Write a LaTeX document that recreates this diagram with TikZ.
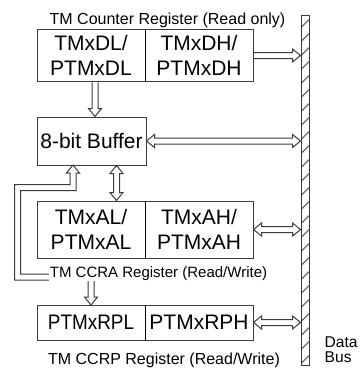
\documentclass[tikz,border=0pt]{standalone}
\usepackage{fontspec}
\setmainfont{Liberation Sans}
\usepackage{graphicx}
\usetikzlibrary{calc}
\definecolor{cline}{HTML}{3C3C3C}
\definecolor{chatch}{HTML}{5A5A5A}

\tikzset{
  reg/.style={draw=cline, line width=0.75pt, minimum width=81pt, inner sep=0pt,
    align=center, font=\fontsize{15.75}{18.75}\selectfont},
  regcap/.style={anchor=base, fill=white, inner sep=0.5pt},
  % hollow bus arrows, one tip or two tips
  oneway/.style={draw=cline, line width=0.75pt, line join=miter, to path={
    let \p1=(\tikztostart), \p2=(\tikztotarget), \n1={atan2(\y2-\y1,\x2-\x1)} in
    ($(\p1)+({\n1+90}:2.25pt)$)
    -- ($(\p2)+({\n1+180}:6pt)+({\n1+90}:2.25pt)$)
    -- ($(\p2)+({\n1+180}:6pt)+({\n1+90}:4.9pt)$)
    -- (\p2)
    -- ($(\p2)+({\n1+180}:6pt)+({\n1-90}:4.9pt)$)
    -- ($(\p2)+({\n1+180}:6pt)+({\n1-90}:2.25pt)$)
    -- ($(\p1)+({\n1-90}:2.25pt)$)}},
  twoway/.style={draw=cline, line width=0.75pt, line join=miter, to path={
    let \p1=(\tikztostart), \p2=(\tikztotarget), \n1={atan2(\y2-\y1,\x2-\x1)} in
    (\p1)
    -- ($(\p1)+(\n1:6pt)+({\n1+90}:4.9pt)$)
    -- ($(\p1)+(\n1:6pt)+({\n1+90}:2.25pt)$)
    -- ($(\p2)+({\n1+180}:6pt)+({\n1+90}:2.25pt)$)
    -- ($(\p2)+({\n1+180}:6pt)+({\n1+90}:4.9pt)$)
    -- (\p2)
    -- ($(\p2)+({\n1+180}:6pt)+({\n1-90}:4.9pt)$)
    -- ($(\p2)+({\n1+180}:6pt)+({\n1-90}:2.25pt)$)
    -- ($(\p1)+(\n1:6pt)+({\n1-90}:2.25pt)$)
    -- ($(\p1)+(\n1:6pt)+({\n1-90}:4.9pt)$)
    -- cycle}},
  divider/.style={draw=black, line width=1.1pt}
}

\begin{document}
\begin{tikzpicture}[x=0.75pt, y=-0.75pt]
\useasboundingbox (0,0) rectangle (363,371);

% Data bus (hatched bar on the right)
\node[draw=cline, line width=0.75pt, minimum width=6pt, minimum height=262.5pt, inner sep=0pt,
  path picture={
    \foreach \k in {0,...,24}
      \draw[chatch, line width=0.8pt]
        ([yshift=\k*10.5pt+1pt]path picture bounding box.south west) -- ++(6pt,6pt);
  }] (bus) at (305,190) {};
\node[anchor=west, align=left, font=\fontsize{11.7}{11.25}\selectfont] (buslab) at (320,350)
  {Data\\Bus};

% Counter register (read only)
\node[reg, minimum height=39.4pt] (cntL) at (91,55.5) {TMxDL/\\PTMxDL};
\node[reg, minimum height=39.4pt] (cntH) at (199,55.5) {TMxDH/\\PTMxDH};
\draw[divider] (cntL.north east) -- (cntL.south east);
\node[regcap, font=\fontsize{12}{14}\selectfont] (cntlab) at (167.5,24)
  {TM Counter Register (Read only)};

% 8-bit buffer
\node[reg, minimum width=81.75pt, minimum height=36pt] (buf) at (91.5,141) {8-bit Buffer};

% CCRA register
\node[reg, minimum height=42.75pt] (ccraL) at (91,229.5) {TMxAL/\\PTMxAL};
\node[reg, minimum height=42.75pt] (ccraH) at (199,229.5) {TMxAH/\\PTMxAH};
\draw[divider] (ccraL.north east) -- (ccraL.south east);

% CCRP register
\node[reg, minimum height=26.25pt] (rpL) at (91,322.5) {\scalebox{0.9}[1]{PTMxRPL}};
\node[reg, minimum height=26.25pt] (rpH) at (199,322.5) {PTMxRPH};
\draw[divider] (rpL.north east) -- (rpL.south east);

% Arrows to and from the bus
\draw[oneway] (cntH.east) to (cntH.east -| bus.west);
\draw[oneway] ([xshift=3pt]cntL.south) to ([xshift=3pt]cntL.south |- buf.north);
\draw[twoway] (buf.east) to (buf.east -| bus.west);
\draw[twoway] ([xshift=18.75pt]buf.south) to ([xshift=18.75pt]buf.south |- ccraL.north);
\draw[twoway] (ccraH.east) to (ccraH.east -| bus.west);
\draw[twoway] (rpH.east) to (rpH.east -| bus.west);

% Buffer <-> CCRP, routed round the left side
\draw[draw=cline, line width=0.75pt, line join=miter]
  (73,165) -- (79.5,173) -- (76,173) -- (76,190.5) -- (20.5,190.5) -- (20.5,274)
  -- (94,274) -- (94,297) -- (97.5,297) -- (91,305) -- (84.5,297) -- (88,297)
  -- (88,280) -- (14.5,280) -- (14.5,184.5) -- (70,184.5) -- (70,173) -- (66.5,173) -- cycle;

% Register captions
\node[regcap, font=\fontsize{11.25}{13}\selectfont] (ccralab) at (158.5,277)
  {TM CCRA Register (Read/Write)};
\node[regcap, font=\fontsize{12}{14}\selectfont] (ccrplab) at (164,364)
  {TM CCRP Register (Read/Write)};

\end{tikzpicture}
\end{document}
